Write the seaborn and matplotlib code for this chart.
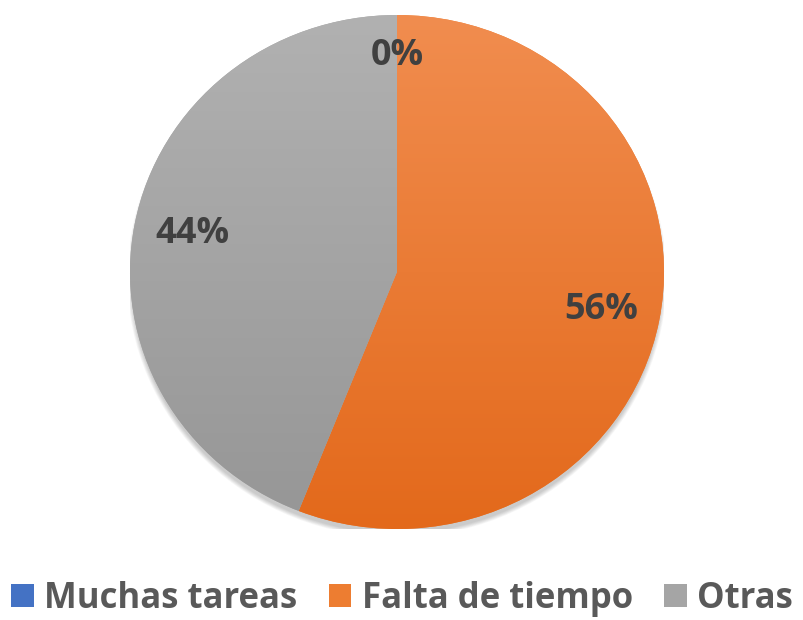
import numpy as np
import matplotlib.pyplot as plt
import matplotlib.colors as mcolors
from matplotlib.patches import Patch, Ellipse
import seaborn as sns

# Datos del gráfico
categorias = ['Muchas tareas', 'Falta de tiempo', 'Otras']
porcentajes = [0, 56, 44]

# Colores (tema Office) con degradado vertical
colores_base = ['#4472C4', '#ED7D31', '#A5A5A5']
colores_claros = ['#5B8BD6', '#F18D4F', '#B1B1B1']
colores_oscuros = ['#3563B8', '#E3691B', '#969696']

sns.set_theme(style='white')
plt.rcParams['font.family'] = ['Open Sans', 'DejaVu Sans']

fig = plt.figure(figsize=(8.04, 6.2), dpi=100)
ax = fig.add_axes([130 / 804, 91 / 620, 534 / 804, 514 / 620])

# Sombra suave bajo el círculo
for i in range(6):
    r = 0.995 + 0.003 * i
    ax.add_patch(Ellipse((0, -0.022), 2 * r, 2 * r, facecolor='black',
                         edgecolor='none', alpha=0.035, zorder=0))

wedges, _, autotexts = ax.pie(
    porcentajes, colors=colores_base, startangle=90, counterclock=False,
    autopct='%1.0f%%', pctdistance=0.78,
    wedgeprops=dict(linewidth=0, zorder=1),
    textprops=dict(fontsize=26, fontweight='bold', color='#404040'))

# Degradado dentro de cada sector
grad = np.linspace(0, 1, 256).reshape(-1, 1)
for w, claro, oscuro, v in zip(wedges, colores_claros, colores_oscuros, porcentajes):
    if v == 0:
        continue
    cmap = mcolors.LinearSegmentedColormap.from_list('g', [claro, oscuro])
    im = ax.imshow(grad, extent=(-1, 1, -1, 1), cmap=cmap, origin='upper',
                   aspect='auto', zorder=2, interpolation='bilinear')
    im.set_clip_path(w)

for t in autotexts:
    t.set_zorder(5)
autotexts[0].set_position((0, 0.84))

ax.set_aspect('auto')
ax.set_xlim(-1, 1)
ax.set_ylim(-1, 1)
ax.axis('off')

handles = [Patch(facecolor=c, edgecolor='none') for c in colores_base]
fig.legend(handles, categorias, loc='lower center', bbox_to_anchor=(0.5, -0.045),
           ncol=3, frameon=False, handlelength=0.65, handleheight=0.65,
           handletextpad=0.3, columnspacing=0.9, labelcolor='#595959',
           prop=dict(weight='bold', size=25))

fig.savefig('out.png', dpi=100, facecolor='white')
